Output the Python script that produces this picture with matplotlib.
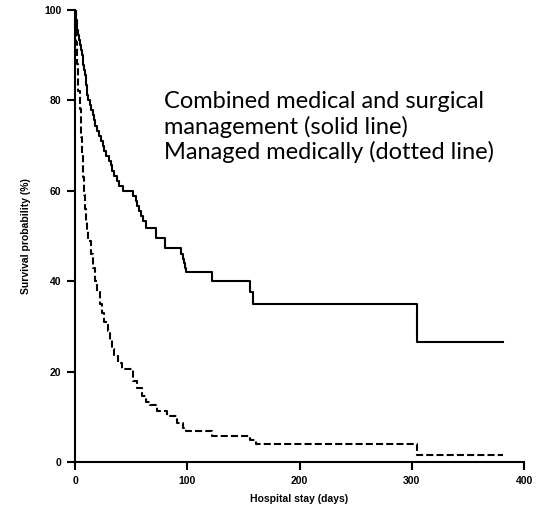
#!/usr/bin/env python3
"""Kaplan-Meier style survival curves by hospital stay, two management groups."""

from __future__ import annotations

import matplotlib

matplotlib.use("Agg")
import matplotlib.pyplot as plt

# combined medical and surgical management (solid line)
solid_days = [0, 0.5, 1, 1.5, 2, 3, 3.5, 4, 5, 6, 7, 7.5, 8, 9, 9.5, 10, 10.5, 11, 12,
              13, 14, 16, 17, 18, 20, 21, 23, 25, 26, 28, 30, 32, 33, 35, 37, 39, 43,
              52, 54, 55, 57, 59, 61, 63, 72, 80, 94, 96, 97, 98, 99, 122, 156, 159,
              305, 381]
solid_surv = [100, 98.9, 97.8, 96.7, 95.6, 94.4, 93.3, 92.2, 91.1, 90.0, 88.9, 87.8,
              86.7, 85.6, 84.4, 83.3, 82.2, 81.1, 80.0, 78.9, 77.8, 76.7, 75.6, 74.4,
              73.3, 72.2, 71.1, 70.0, 68.9, 67.8, 66.7, 65.6, 64.4, 63.3, 62.2, 61.1,
              60.0, 58.9, 57.8, 56.7, 55.6, 54.4, 53.3, 51.8, 49.5, 47.3, 46.0, 45.0,
              44.0, 43.0, 42.0, 40.0, 37.5, 35.0, 26.6, 26.6]

# managed medically (dashed line)
dashed_days = [0, 1, 2, 3, 4, 5, 6, 7, 8, 9, 10, 11, 12, 14, 16, 18, 20, 22, 24, 26, 29,
               31, 33, 35, 38, 42, 52, 55, 60, 63, 67, 73, 82, 91, 96, 99, 122, 156, 161,
               305, 381]
dashed_surv = [100, 93, 88, 82, 78, 72, 68, 63, 59, 56, 53, 51, 49, 46, 43, 40, 37.5, 35,
               33, 31, 29, 27, 25, 23.5, 22, 20.6, 17.9, 16.3, 14.7, 13.3, 12.6, 11.2, 10.1,
               8.6, 7.5, 6.9, 5.8, 4.8, 4.0, 1.5, 1.5]

x_ticks = [0, 100, 200, 300, 400]
y_ticks = [0, 20, 40, 60, 80, 100]
note_text = ("Combined medical and surgical\n"
             "management (solid line)\n"
             "Managed medically (dotted line)")


def main() -> None:
    fig = plt.figure(figsize=(5.37, 5.07), dpi=100)
    ax = fig.add_axes([0.1397, 0.0888, 0.8361, 0.8915])

    ax.step(solid_days, solid_surv, where="post", color="black", linewidth=1.5)
    ax.step(dashed_days, dashed_surv, where="post", color="black", linewidth=1.5,
            dashes=(3.4, 1.5))

    ax.set_xlim(0, 400)
    ax.set_ylim(0, 100)
    ax.set_xticks(x_ticks)
    ax.set_yticks(y_ticks)
    for side in ("top", "right"):
        ax.spines[side].set_visible(False)
    for side in ("left", "bottom"):
        ax.spines[side].set_linewidth(1.5)
    ax.tick_params(direction="out", length=6, width=1.5, pad=4)
    for label in ax.get_xticklabels() + ax.get_yticklabels():
        label.set_fontfamily("Liberation Sans")
        label.set_fontweight("bold")
        label.set_fontsize(7.5)

    ax.set_xlabel("Hospital stay (days)", fontfamily="Liberation Sans", fontweight="bold",
                  fontsize=7.5, labelpad=6)
    ax.set_ylabel("Survival probability (%)", fontfamily="Liberation Sans",
                  fontweight="bold", fontsize=7.5, labelpad=9)

    ax.text(0.198, 0.82, note_text, transform=ax.transAxes, fontfamily="Lato",
            fontsize=17, va="top", ha="left", linespacing=1.17)

    fig.savefig("out.png", dpi=100)
    plt.close(fig)


if __name__ == "__main__":
    main()
